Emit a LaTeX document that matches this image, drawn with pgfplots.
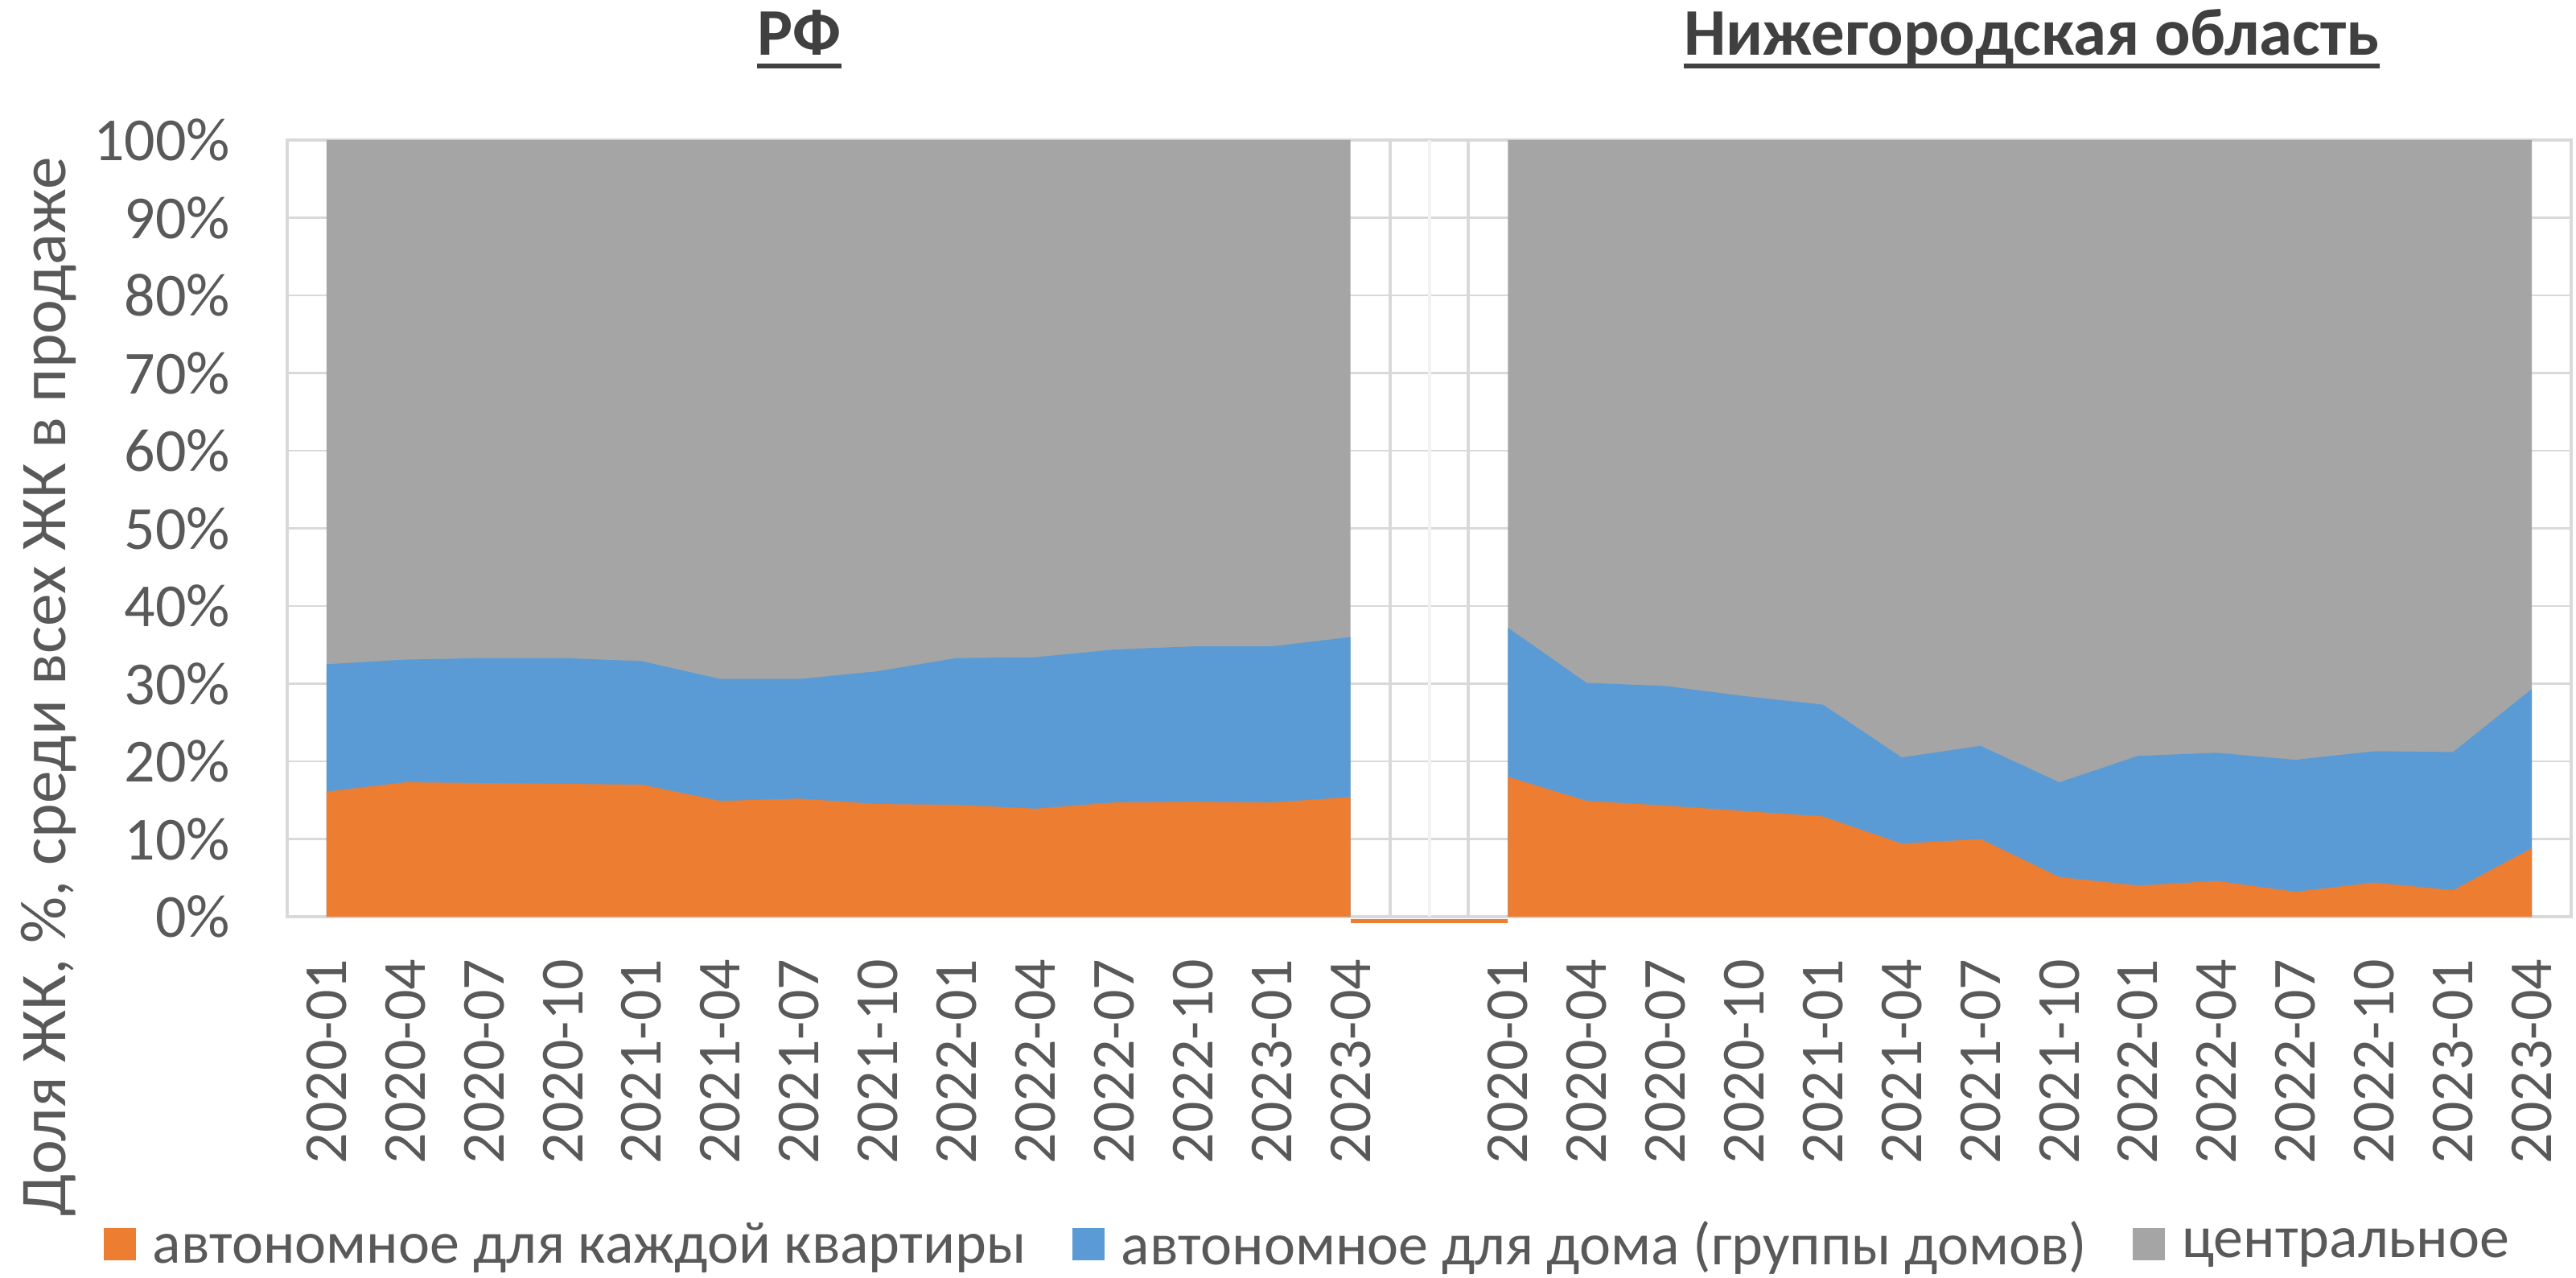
\documentclass[border=0pt]{standalone}
\usepackage{pgfplots}
\usepackage{pgfplotstable}
\pgfplotsset{compat=1.18}
\usepackage{fontspec}
\setmainfont{Carlito}

\definecolor{cOr}{HTML}{ED7D31}
\definecolor{cBl}{HTML}{5B9BD5}
\definecolor{cGr}{HTML}{A5A5A5}
\definecolor{cGrid}{HTML}{D9D9D9}
\definecolor{cLight}{HTML}{F2F2F2}
\definecolor{cText}{HTML}{595959}
\definecolor{cTitle}{HTML}{404040}

% shares of housing complexes by heating type, %
\pgfplotstableread{
x own house central
0  16.1 16.4 67.5
1  17.3 15.8 66.9
2  17.2 16.1 66.7
3  17.1 16.2 66.7
4  17.0 15.9 67.1
5  14.9 15.7 69.4
6  15.2 15.4 69.4
7  14.5 17.1 68.4
8  14.4 18.9 66.7
9  13.9 19.5 66.6
10 14.7 19.7 65.6
11 14.8 20.0 65.2
12 14.7 20.1 65.2
13 15.4 20.6 64.0
}\rf

\pgfplotstableread{
x own house central
15 18.0 19.2 62.8
16 14.9 15.2 69.9
17 14.3 15.4 70.3
18 13.6 14.8 71.6
19 12.9 14.4 72.7
20 9.4  11.1 79.5
21 10.0 12.0 78.0
22 5.1  12.2 82.7
23 4.0  16.7 79.3
24 4.6  16.5 78.9
25 3.2  17.0 79.8
26 4.4  16.9 78.7
27 3.4  17.8 78.8
28 8.8  20.5 70.7
}\nn

\newcommand{\lblfont}{\fontsize{18.5}{22}\selectfont}
\newcommand{\tickfont}{\fontsize{19}{22}\selectfont}

\begin{document}
\begin{tikzpicture}
\path[use as bounding box] (0,0) rectangle (800.5pt,396.75pt);
\begin{axis}[
  at={(89.25pt,112pt)}, anchor=south west,
  scale only axis, width=709.75pt, height=241.25pt,
  xmin=-0.5, xmax=28.5, ymin=0, ymax=100,
  clip=false,
  axis line style={cGrid, line width=0.8pt},
  tick style={draw=none},
  major tick length=0pt, minor tick length=0pt,
  xtick={0,...,13,15,16,...,28},
  xticklabels={2020-01,2020-04,2020-07,2020-10,2021-01,2021-04,2021-07,2021-10,2022-01,2022-04,2022-07,2022-10,2023-01,2023-04,
               2020-01,2020-04,2020-07,2020-10,2021-01,2021-04,2021-07,2021-10,2022-01,2022-04,2022-07,2022-10,2023-01,2023-04},
  minor xtick={13.5,14.5},
  xminorgrids=true,
  minor grid style={cGrid, line width=1pt},
  extra x ticks={14},
  extra x tick labels={},
  extra x tick style={grid=major, major grid style={cLight, line width=1pt}},
  ytick={0,10,...,100},
  ymajorgrids=true,
  major grid style={cGrid, line width=0.6pt},
  yticklabel={\pgfmathprintnumber{\tick}\%},
  /pgf/number format/assume math mode=true,
  tick label style={font=\tickfont, text=cText, inner sep=0pt},
  yticklabel style={anchor=east, xshift=-17.5pt},
  xticklabel style={yshift=-13pt, rotate=90, anchor=east},
  legend image code/.code={\fill[#1] (0pt,-4.6pt) rectangle (10pt,5.4pt);},
  legend style={
    draw=none, fill=none, inner sep=0pt,
    legend columns=3,
    font=\lblfont, text=cText,
    nodes={inner sep=0pt},
    /tikz/every odd column/.append style={column sep=5.25pt},
    /tikz/every even column/.append style={column sep=14.25pt},
    at={(rel axis cs:-0.0807,-0.423)}, anchor=west,
  },
]
% Russian Federation
\addplot[fill=cGr, draw=none, forget plot] table[x=x, y expr=\thisrow{own}+\thisrow{house}+\thisrow{central}] {\rf} \closedcycle;
\addplot[fill=cBl, draw=none, forget plot] table[x=x, y expr=\thisrow{own}+\thisrow{house}] {\rf} \closedcycle;
\addplot[fill=cOr, draw=none, forget plot] table[x=x, y=own] {\rf} \closedcycle;
% Nizhny Novgorod region
\addplot[fill=cGr, draw=none, forget plot] table[x=x, y expr=\thisrow{own}+\thisrow{house}+\thisrow{central}] {\nn} \closedcycle;
\addplot[fill=cBl, draw=none, forget plot] table[x=x, y expr=\thisrow{own}+\thisrow{house}] {\nn} \closedcycle;
\addplot[fill=cOr, draw=none, forget plot] table[x=x, y=own] {\nn} \closedcycle;
% empty category between the two blocks
\addplot[cOr, line width=1.2pt, yshift=-1.3pt, forget plot] coordinates {(13,0) (15,0)};

\addlegendimage{fill=cOr, draw=none}
\addlegendentry{автономное для каждой квартиры}
\addlegendimage{fill=cBl, draw=none}
\addlegendentry{автономное для дома (группы домов)}
\addlegendimage{fill=cGr, draw=none}
\addlegendentry{центральное}

% panel titles
\node[anchor=base, inner sep=0pt, text=cTitle, font=\bfseries\fontsize{20.7}{24}\selectfont] (t1) at (axis cs:6.0,110.9) {РФ};
\draw[cTitle, line width=1.4pt] ([yshift=-3.25pt]t1.base west) -- ([yshift=-3.25pt]t1.base east);
\node[anchor=base, inner sep=0pt, text=cTitle, font=\bfseries\fontsize{20.7}{24}\selectfont] (t2) at (axis cs:21.65,110.9) {Нижегородская область};
\draw[cTitle, line width=1.4pt] ([yshift=-3.25pt]t2.base west) -- ([yshift=-3.25pt]t2.base east);

% value axis title
\node[rotate=90, anchor=base, inner sep=0pt, text=cText, font=\fontsize{20.3}{23}\selectfont] at (rel axis cs:-0.0969,0.296) {Доля ЖК, \%, среди всех ЖК в продаже};
\end{axis}
\end{tikzpicture}
\end{document}
